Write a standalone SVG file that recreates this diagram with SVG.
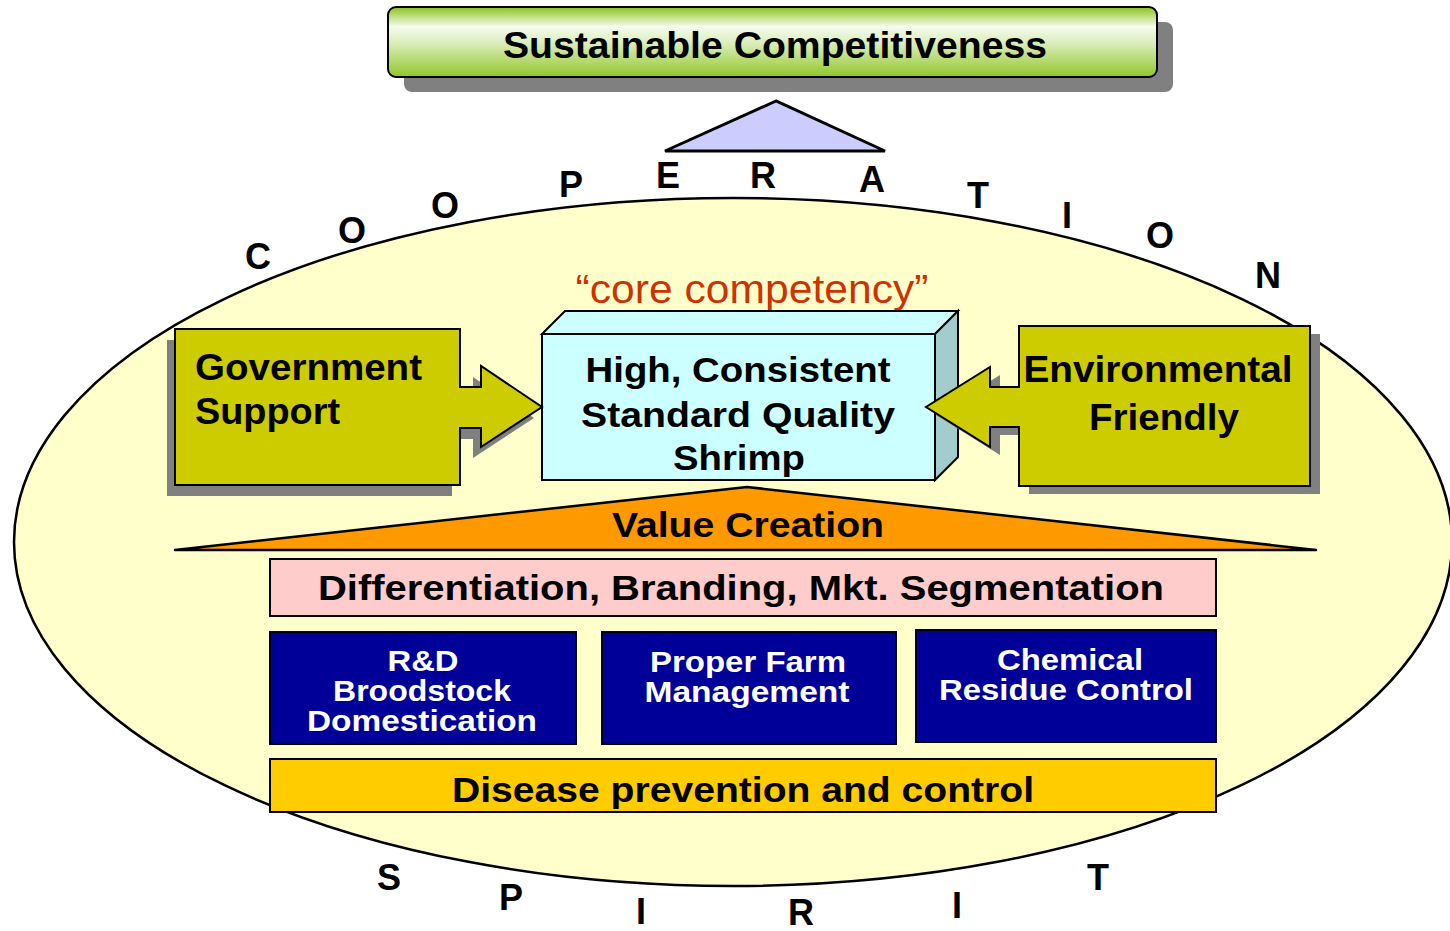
<svg xmlns="http://www.w3.org/2000/svg" width="1450" height="931" viewBox="0 0 1450 931">
<defs>
<linearGradient id="gbar" x1="0" y1="0" x2="0" y2="1">
<stop offset="0" stop-color="#8cc21c"/>
<stop offset="0.28" stop-color="#f6fbee"/>
<stop offset="0.5" stop-color="#dcefbe"/>
<stop offset="1" stop-color="#92c62a"/>
</linearGradient>
<style>
.b{font-family:"Liberation Sans",Arial,sans-serif;font-weight:bold;fill:#000}
.w{font-family:"Liberation Sans",Arial,sans-serif;font-weight:bold;fill:#fff;font-size:30px;text-anchor:middle}
.ltr{font-family:"Liberation Sans",Arial,sans-serif;font-weight:bold;font-size:36px;text-anchor:middle;fill:#000}
.ol{stroke:#000;stroke-width:2}
.sh{fill:#808080}
</style>
</defs>
<rect width="1450" height="931" fill="#fff"/>

<g id="ellipse">
<ellipse cx="733" cy="542" rx="719" ry="344" fill="#ffffcc" stroke="#000" stroke-width="2.5"/>
</g>

<g id="top-bar">
<rect x="404" y="22" width="769" height="70" rx="8" class="sh"/>
<rect x="388" y="7" width="769" height="70" rx="8" fill="url(#gbar)" class="ol"/>
<text x="775" y="58" class="b" font-size="36" text-anchor="middle" textLength="544" lengthAdjust="spacingAndGlyphs">Sustainable Competitiveness</text>
</g>

<g id="roof">
<polygon points="776,101 665,151 885,151" fill="#ccccff" stroke="#000" stroke-width="3"/>
</g>

<g id="cooperation">
<text x="258" y="269" class="ltr">C</text>
<text x="352" y="243" class="ltr">O</text>
<text x="445" y="218" class="ltr">O</text>
<text x="571" y="197" class="ltr">P</text>
<text x="668" y="188" class="ltr">E</text>
<text x="763" y="188" class="ltr">R</text>
<text x="872" y="192" class="ltr">A</text>
<text x="978" y="208" class="ltr">T</text>
<text x="1067" y="228" class="ltr">I</text>
<text x="1160" y="248" class="ltr">O</text>
<text x="1268" y="288" class="ltr">N</text>
</g>

<g id="spirit">
<text x="389" y="890" class="ltr">S</text>
<text x="511" y="910" class="ltr">P</text>
<text x="641" y="924" class="ltr">I</text>
<text x="801" y="925" class="ltr">R</text>
<text x="957" y="918" class="ltr">I</text>
<text x="1098" y="890" class="ltr">T</text>
</g>

<g id="core-label">
<text x="752" y="303" font-family="'Liberation Sans',Arial,sans-serif" font-size="40" fill="#cc3300" text-anchor="middle" textLength="353" lengthAdjust="spacingAndGlyphs">“core competency”</text>
</g>

<g id="shrimp-box">
<polygon points="542,334 565,311 958,311 935,334" fill="#ccffff" class="ol"/>
<polygon points="935,334 958,311 958,457 935,480" fill="#a3cccc" class="ol"/>
<rect x="542" y="334" width="393" height="146" fill="#ccffff" class="ol"/>
<text x="738" y="382" class="b" font-size="35" text-anchor="middle" textLength="305" lengthAdjust="spacingAndGlyphs">High, Consistent</text>
<text x="738" y="427" class="b" font-size="35" text-anchor="middle" textLength="314" lengthAdjust="spacingAndGlyphs">Standard Quality</text>
<text x="739" y="470" class="b" font-size="35" text-anchor="middle" textLength="132" lengthAdjust="spacingAndGlyphs">Shrimp</text>
</g>

<g id="government">
<path d="M167,340 H452 V398 H473 V377 L534,418 L473,458 V439 H452 V496 H167 Z" class="sh"/>
<path d="M175,329 H460 V387 H481 V366 L542,407 L481,447 V428 H460 V485 H175 Z" fill="#cccc00" class="ol"/>
<text x="195" y="380" class="b" font-size="36" textLength="227" lengthAdjust="spacingAndGlyphs">Government</text>
<text x="195" y="424" class="b" font-size="36" textLength="145" lengthAdjust="spacingAndGlyphs">Support</text>
</g>

<g id="environment">
<path d="M1029,334 H1320 V494 H1029 V435 H1000 V455 L936,415 L1000,375 V395 H1029 Z" class="sh"/>
<path d="M1019,326 H1310 V486 H1019 V427 H990 V447 L926,407 L990,367 V387 H1019 Z" fill="#cccc00" class="ol"/>
<text x="1158" y="382" class="b" font-size="36" text-anchor="middle" textLength="269" lengthAdjust="spacingAndGlyphs">Environmental</text>
<text x="1164" y="430" class="b" font-size="36" text-anchor="middle" textLength="150" lengthAdjust="spacingAndGlyphs">Friendly</text>
</g>

<g id="value-creation">
<polygon points="747,487 175,550 1316,550" fill="#ff9900" stroke="#000" stroke-width="2.5" stroke-linejoin="round"/>
<text x="748" y="537" class="b" font-size="35" text-anchor="middle" textLength="272" lengthAdjust="spacingAndGlyphs">Value Creation</text>
</g>

<g id="differentiation">
<rect x="270" y="559" width="946" height="57" fill="#ffcccc" class="ol"/>
<text x="741" y="600" class="b" font-size="35" text-anchor="middle" textLength="846" lengthAdjust="spacingAndGlyphs">Differentiation, Branding, Mkt. Segmentation</text>
</g>

<g id="rd">
<rect x="270" y="632" width="306" height="112" fill="#000099" class="ol"/>
<text x="423" y="671" class="w" textLength="71" lengthAdjust="spacingAndGlyphs">R&amp;D</text>
<text x="422" y="701" class="w" textLength="178" lengthAdjust="spacingAndGlyphs">Broodstock</text>
<text x="422" y="731" class="w" textLength="230" lengthAdjust="spacingAndGlyphs">Domestication</text>
</g>

<g id="farm">
<rect x="602" y="632" width="294" height="112" fill="#000099" class="ol"/>
<text x="748" y="672" class="w" textLength="196" lengthAdjust="spacingAndGlyphs">Proper Farm</text>
<text x="747" y="702" class="w" textLength="205" lengthAdjust="spacingAndGlyphs">Management</text>
</g>

<g id="chemical">
<rect x="916" y="630" width="300" height="112" fill="#000099" class="ol"/>
<text x="1070" y="670" class="w" textLength="146" lengthAdjust="spacingAndGlyphs">Chemical</text>
<text x="1066" y="700" class="w" textLength="254" lengthAdjust="spacingAndGlyphs">Residue Control</text>
</g>

<g id="disease">
<rect x="270" y="759" width="946" height="53" fill="#ffcc00" class="ol"/>
<text x="743" y="802" class="b" font-size="35" text-anchor="middle" textLength="582" lengthAdjust="spacingAndGlyphs">Disease prevention and control</text>
</g>

<g id="connectors"></g>
</svg>
